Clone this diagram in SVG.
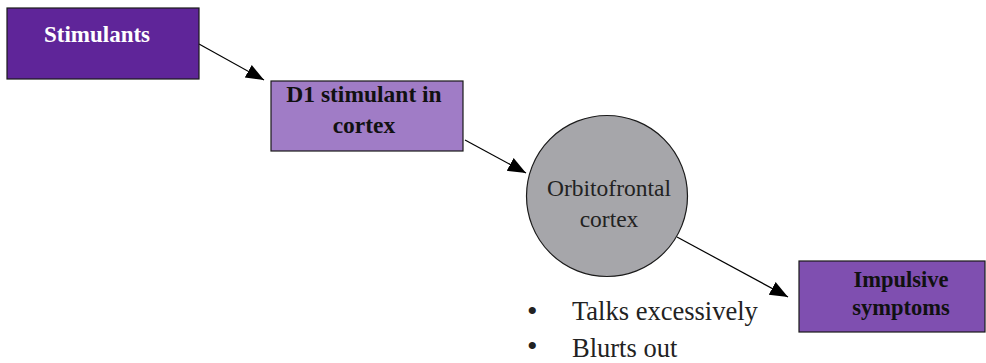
<svg xmlns="http://www.w3.org/2000/svg" width="986" height="363" viewBox="0 0 986 363">
<style>
.box{stroke:#1a1a1a;stroke-width:1.2}
.lbl{font-family:'Liberation Serif',serif;font-weight:bold;text-anchor:middle}
.reg{font-family:'Liberation Serif',serif;fill:#222}
</style>
<defs>
<marker id="ah" viewBox="0 0 10 10" refX="10" refY="5" markerWidth="18" markerHeight="18" markerUnits="userSpaceOnUse" orient="auto">
<path d="M0,1 L10,5 L0,9 z" fill="#000"/>
</marker>
</defs>
<g id="connectors" stroke="#000" stroke-width="1.2">
<line x1="199" y1="44" x2="264" y2="80" marker-end="url(#ah)"/>
<line x1="465" y1="140" x2="526" y2="173" marker-end="url(#ah)"/>
<line x1="677" y1="237" x2="788" y2="297" marker-end="url(#ah)"/>
</g>
<g id="stimulants">
<rect class="box" x="7" y="8" width="192" height="71" fill="#5f2599"/>
<text class="lbl" x="97" y="42" font-size="23" fill="#ffffff" font-family="Liberation Serif, serif">Stimulants</text>
</g>
<g id="d1">
<rect class="box" x="271" y="81" width="192" height="70" fill="#a07cc6"/>
<text class="lbl" x="364" y="102" font-size="23.5" fill="#111" font-family="Liberation Serif, serif">D1 stimulant in</text>
<text class="lbl" x="364" y="133" font-size="23.5" fill="#111" font-family="Liberation Serif, serif">cortex</text>
</g>
<g id="ofc">
<circle cx="607" cy="196" r="80.5" fill="#a6a6aa" stroke="#1a1a1a" stroke-width="1.2"/>
<text class="reg" x="609" y="196" font-size="23.5" text-anchor="middle" font-family="Liberation Serif, serif">Orbitofrontal</text>
<text class="reg" x="609" y="227" font-size="23.5" text-anchor="middle" font-family="Liberation Serif, serif">cortex</text>
</g>
<g id="impulsive">
<rect class="box" x="799" y="261" width="186" height="71" fill="#7f4fb0"/>
<text class="lbl" x="901" y="287" font-size="22.5" fill="#111" font-family="Liberation Serif, serif">Impulsive</text>
<text class="lbl" x="901" y="315" font-size="22.5" fill="#111" font-family="Liberation Serif, serif">symptoms</text>
</g>
<g id="bullets" font-family="Liberation Serif, serif">
<text class="reg" x="527" y="321" font-size="30">•</text>
<text class="reg" x="572" y="320" font-size="26.5">Talks excessively</text>
<text class="reg" x="527" y="356" font-size="30">•</text>
<text class="reg" x="572" y="357" font-size="26.5">Blurts out</text>
</g>
</svg>
